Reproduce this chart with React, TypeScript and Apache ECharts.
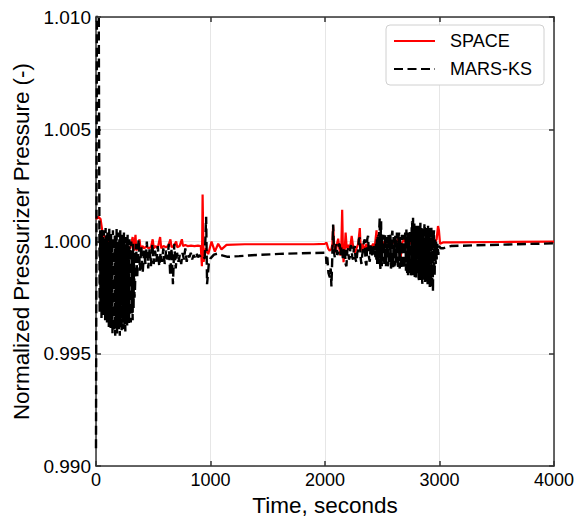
import React, { useEffect, useRef } from "react";
import * as echarts from "echarts";

const FONT = "'Liberation Sans', Arial, sans-serif";

const seriesNames = ["SPACE", "MARS-KS"];
const xRange = [0, 4000];
const xStep = 1000;
const yRange = [0.99, 1.01];
const yStep = 0.005;

// SPACE (red) – [time s, normalized pressure]
const spaceEarly: [number, number][] = [
  [0, 1.001], [20, 1.0011], [40, 1.001], [60, 1.0003], [80, 1.0002], [100, 1.0], [150, 0.9999],
  [200, 0.9998], [250, 0.9998], [300, 0.9997], [320, 1.0002], [330, 0.9996],
];
const spaceMid: [number, number][] = [
  [345, 1.0003], [352, 0.9996], [365, 0.99975], [380, 1.0001], [390, 0.99965], [405, 0.9998],
  [420, 0.9997], [440, 0.99978], [460, 0.9997], [480, 0.99975], [495, 1.0001], [505, 0.9997],
  [520, 0.9998], [540, 0.99972], [560, 1.0002], [570, 0.9997], [590, 0.9998], [610, 0.99975],
  [630, 0.9998], [650, 1.0001], [660, 0.99975], [680, 0.9998], [700, 1.0], [710, 0.99975],
  [730, 0.9998], [750, 1.0001], [760, 0.9998], [780, 0.99985], [800, 0.9998], [830, 0.99982],
  [860, 0.9998], [890, 0.99982], [915, 0.9998],
];
const spaceSpike: [number, number][] = [
  [925, 0.9989], [931, 1.0021], [940, 0.9991], [960, 0.9997], [980, 0.99944], [1009, 1.0],
  [1038, 0.99955], [1067, 0.9999], [1096, 0.99965], [1140, 0.99985], [1300, 0.99988],
  [1600, 0.99988], [1900, 0.99988], [2000, 0.9999],
];
const spaceLate: [number, number][] = [
  [2013, 0.99996], [2027, 0.9997], [2040, 0.9996], [2056, 0.99966], [2065, 0.9999], [2071, 1.00072],
  [2080, 0.9998], [2094, 0.99951], [2105, 0.9999], [2115, 1.00013], [2125, 0.9997], [2135, 0.99937],
  [2143, 0.9999], [2150, 1.00142], [2156, 0.9998], [2162, 0.99908], [2172, 0.9996], [2180, 1.0004],
  [2190, 0.9997], [2205, 0.99986], [2216, 0.9996], [2233, 1.00025], [2245, 0.9998], [2262, 0.9995],
  [2275, 0.9997], [2290, 0.9999], [2304, 1.0006], [2312, 0.9996], [2318, 0.99966], [2330, 0.9999],
  [2345, 0.9996], [2362, 0.9999], [2375, 0.9997], [2390, 0.9998], [2405, 0.99975], [2420, 0.9999],
  [2435, 0.9998], [2450, 1.0005], [2460, 0.9996], [2478, 0.9999], [2490, 0.9997], [2507, 1.0],
  [2522, 0.9998], [2540, 1.0001], [2555, 0.9999], [2570, 1.0], [2590, 0.9999], [2610, 1.0001],
  [2620, 0.9999], [2643, 1.00018], [2655, 0.9993], [2661, 0.9992], [2670, 0.9999], [2690, 1.0001],
  [2711, 0.9999], [2730, 1.0], [2750, 0.9999], [2770, 0.99985], [2800, 0.9999], [2830, 0.9998],
  [2860, 0.99985], [2890, 0.9999], [2920, 0.99985], [2950, 0.9999], [2975, 1.0001], [2987, 1.00069],
  [2995, 1.0005], [3005, 0.9999], [3030, 0.99996], [3100, 0.99996], [3500, 0.99998], [4000, 1.0],
];

// MARS-KS (black dashed)
const marsEarly: [number, number][] = [
  [0, 0.9908], [9, 1.013], [24, 1.0104], [32, 0.9968],
  [36, 1.0005], [40, 0.9971], [44, 1.0003], [48, 0.9966], [52, 1.0006], [56, 0.997], [60, 1.0002],
  [64, 0.9967], [68, 1.0005], [72, 0.9969], [76, 1.0001], [80, 0.9965], [84, 1.0006], [88, 0.9968],
  [92, 1.0003], [96, 0.9964], [100, 1.0004], [104, 0.9967], [108, 1.0], [112, 0.9962], [116, 1.0006],
  [120, 0.9965], [124, 1.0002], [128, 0.9961], [132, 1.0004], [136, 0.9964], [140, 1.0001],
  [144, 0.9959], [148, 1.0005], [152, 0.9963], [156, 0.9999], [160, 0.996], [164, 1.0003],
  [168, 0.9958], [172, 1.0002], [176, 0.9962], [180, 1.0006], [184, 0.9959], [188, 1.0],
  [192, 0.9963], [196, 1.0004], [200, 0.9961], [204, 1.0001], [208, 0.9958], [212, 1.0005],
  [216, 0.9962], [220, 0.9999], [224, 0.996], [228, 1.0003], [232, 0.9964], [236, 1.0001],
  [240, 0.9961], [244, 1.0004], [248, 0.9963], [252, 0.9998], [256, 0.996], [260, 1.0002],
  [264, 0.9965], [268, 1.0], [272, 0.9962], [276, 1.0003], [280, 0.9966], [284, 0.9998],
  [288, 0.9963], [292, 1.0001], [296, 0.9967], [300, 0.9997], [304, 0.9964], [308, 1.0],
  [312, 0.9968], [316, 0.9996], [320, 0.9965], [324, 0.9999], [328, 0.997], [332, 0.9995], [336, 0.9975],
];
const marsMid: [number, number][] = [
  [340, 0.9978], [350, 0.9999], [360, 0.9984], [372, 1.0001], [384, 0.9987], [396, 0.9998],
  [408, 0.9986], [420, 0.9996], [432, 0.999], [444, 1.0], [456, 0.9988], [468, 0.9997],
  [480, 0.9989], [492, 0.9999], [504, 0.999], [516, 0.9996], [528, 0.9991], [540, 0.9998],
  [552, 0.9989], [564, 0.9995], [576, 0.9991], [588, 0.9997], [600, 0.999], [612, 0.9996],
  [624, 0.9992], [636, 0.9999], [648, 0.9985], [660, 0.9997], [672, 0.9981], [684, 0.9999],
  [696, 0.9988], [708, 0.9995], [720, 0.9991], [732, 0.9994], [744, 0.999], [756, 0.9995],
  [768, 0.9992], [780, 0.9997], [792, 0.9991], [804, 0.9994], [816, 0.9993], [828, 0.9995],
  [840, 0.9992], [852, 0.9994], [864, 0.9993], [876, 0.9995], [888, 0.9993], [900, 0.9994],
  [915, 0.9993], [935, 0.9992], [950, 0.9993],
];
const marsSpike: [number, number][] = [
  [962, 1.0011], [970, 0.9981], [985, 0.999], [1000, 0.99925], [1030, 0.99942], [1060, 0.99946],
  [1090, 0.9994], [1150, 0.99932], [1250, 0.99935], [1400, 0.9994], [1600, 0.99945],
  [1800, 0.99948], [2000, 0.9995],
];
const marsLate: [number, number][] = [
  [2008, 0.9994], [2013, 0.999], [2020, 0.9993], [2030, 0.9986], [2042, 0.9984], [2050, 0.9988],
  [2056, 0.998], [2062, 0.999], [2071, 1.00076], [2078, 0.9996], [2085, 0.9993], [2092, 0.9998],
  [2100, 0.99988], [2107, 0.9994], [2115, 0.9995], [2122, 0.9999], [2129, 0.99985], [2136, 0.9994],
  [2144, 0.9998], [2151, 0.9995], [2158, 0.99916], [2166, 0.9996], [2173, 0.99974], [2180, 0.999],
  [2187, 0.9989], [2195, 0.9996], [2202, 0.9997], [2209, 0.9992], [2216, 0.9993], [2223, 0.9998],
  [2231, 0.9998], [2238, 0.9993], [2245, 0.9992], [2252, 0.9997], [2260, 0.9998], [2267, 0.9992],
  [2275, 0.99908], [2282, 0.9995], [2289, 0.9996], [2296, 1.0001], [2304, 1.00018], [2311, 0.9993],
  [2318, 0.999], [2325, 0.9994], [2333, 0.9996], [2340, 1.0], [2347, 1.0001], [2354, 0.9991],
  [2362, 0.99894], [2369, 1.0001], [2376, 1.00026], [2384, 0.9993], [2391, 0.9991], [2398, 0.9997],
  [2405, 0.9999], [2412, 0.9993], [2420, 0.9994], [2427, 0.9998], [2434, 0.9997], [2440, 0.9993],
  [2445, 0.9999], [2449, 0.9991], [2453, 1.0001], [2456, 0.9990], [2460, 1.0002], [2463, 0.9991],
  [2467, 1.0003], [2470, 0.9990], [2474, 1.0006], [2478, 1.00106], [2481, 0.9990], [2484, 0.99878],
  [2487, 1.0004], [2490, 1.0009], [2493, 0.9990], [2496, 0.9989], [2499, 1.0002], [2501, 0.9999],
  [2504, 0.9991], [2507, 0.99944], [2510, 1.0003], [2514, 1.0], [2518, 0.9990], [2522, 0.9993],
  [2525, 1.0003], [2529, 1.0002], [2532, 0.9989], [2536, 0.9992], [2540, 1.0002], [2543, 0.9999],
  [2547, 0.9989], [2551, 0.999], [2554, 1.0003], [2558, 1.0001], [2561, 0.9990], [2565, 0.9991],
  [2568, 1.0003], [2572, 1.0002], [2576, 0.9988], [2580, 0.9989], [2584, 1.0003], [2589, 1.00048],
  [2592, 0.9990], [2595, 0.99886], [2599, 1.0002], [2603, 1.0001], [2606, 0.9989], [2610, 0.999],
  [2614, 1.0003], [2618, 0.9999], [2621, 0.9990], [2624, 0.9993], [2628, 1.0004], [2631, 1.0002],
  [2635, 0.9988], [2638, 0.9989], [2642, 1.0002], [2647, 1.0004], [2650, 0.9989], [2653, 0.9988],
  [2657, 1.0002], [2660, 1.0], [2664, 0.9988], [2667, 0.999], [2671, 1.0003], [2676, 0.9998],
  [2680, 0.9989], [2683, 0.9988], [2687, 1.0002], [2690, 1.0003], [2693, 0.9988], [2696, 0.9989],
  [2700, 1.0004], [2704, 1.0002], [2707, 0.9987], [2711, 1.00054], [2714, 0.9988], [2718, 0.9986],
  [2721, 1.0003], [2725, 0.9985], [2728, 1.0004], [2732, 1.0003], [2735, 0.9986], [2739, 0.9987],
  [2742, 1.0005], [2746, 0.9999], [2750, 0.9985], [2754, 0.9986], [2757, 1.0006], [2761, 1.0009],
  [2765, 0.9986], [2769, 1.00106], [2772, 0.9985], [2776, 0.9986], [2780, 1.0008], [2784, 0.99842],
  [2787, 1.0006], [2791, 1.0005], [2794, 0.9984], [2798, 1.0007], [2802, 0.9985], [2806, 0.9985],
  [2809, 1.0007], [2813, 1.0003], [2817, 0.9984], [2821, 0.99829], [2824, 1.0007], [2827, 1.0006],
  [2830, 0.9984], [2833, 1.00084], [2836, 0.9983], [2840, 0.9984], [2843, 1.0006], [2846, 1.0005],
  [2849, 0.9982], [2851, 0.99812], [2855, 1.0006], [2858, 1.0004], [2861, 0.9983], [2864, 0.9986],
  [2868, 1.0007], [2871, 1.0008], [2874, 0.9982], [2878, 0.9984], [2881, 1.0006], [2885, 0.9983],
  [2888, 1.0007], [2892, 1.0006], [2896, 0.9981], [2900, 1.0007], [2903, 0.9982], [2907, 0.9985],
  [2911, 1.0006], [2915, 0.99798], [2918, 1.0005], [2922, 1.0004], [2925, 0.9980], [2929, 1.0007],
  [2932, 0.9981], [2936, 0.9982], [2939, 1.0005], [2943, 0.99776], [2946, 1.0003], [2948, 1.0002],
  [2952, 1.0005], [2955, 0.9985], [2958, 0.9986], [2961, 1.0001], [2963, 0.9994], [2967, 0.999],
  [2970, 1.0], [2972, 0.9998], [2975, 0.9992], [2978, 0.9995], [2982, 0.9999], [2985, 0.9999],
  [2990, 0.9994], [2996, 0.9998], [3010, 0.9997], [3030, 0.9997], [3060, 0.99975],
  [3100, 0.9998], [3300, 0.99983], [3600, 0.99987], [4000, 0.99992],
];

const spaceData = [...spaceEarly, ...spaceMid, ...spaceSpike, ...spaceLate];
const marsData = [...marsEarly, ...marsMid, ...marsSpike, ...marsLate];

const AXIS_COLOR = "#333";

function makeX(main: boolean): any {
  return {
    type: "value",
    min: xRange[0],
    max: xRange[1],
    interval: xStep,
    position: main ? "bottom" : "top",
    axisLine: { show: true, onZero: false, lineStyle: { color: AXIS_COLOR, width: 1.5 } },
    axisTick: { show: true, inside: true, length: 5, lineStyle: { color: AXIS_COLOR, width: 1.5 } },
    axisLabel: {
      show: main,
      color: "#000",
      fontSize: 18,
      fontFamily: FONT,
      margin: 5,
      formatter: (v: number) => String(v),
    },
    splitLine: { show: main, lineStyle: { color: "#e6e6e6", width: 1 } },
    name: main ? "Time, seconds" : "",
    nameLocation: "middle",
    nameGap: 19,
    nameTextStyle: { color: "#000", fontSize: 22.5, fontFamily: FONT },
  };
}

function makeY(main: boolean): any {
  return {
    type: "value",
    min: yRange[0],
    max: yRange[1],
    interval: yStep,
    position: main ? "left" : "right",
    axisLine: { show: true, onZero: false, lineStyle: { color: AXIS_COLOR, width: 1.5 } },
    axisTick: { show: true, inside: true, length: 5, lineStyle: { color: AXIS_COLOR, width: 1.5 } },
    axisLabel: {
      show: main,
      color: "#000",
      fontSize: 19,
      fontFamily: FONT,
      margin: 5,
      formatter: (v: number) => v.toFixed(3),
    },
    splitLine: { show: main, lineStyle: { color: "#e6e6e6", width: 1 } },
    name: main ? "Normalized Pressurizer Pressure (-)" : "",
    nameLocation: "middle",
    nameGap: 63,
    nameTextStyle: { color: "#000", fontSize: 22.4, fontFamily: FONT },
  };
}

export default function App() {
  const ref = useRef<HTMLDivElement>(null);
  useEffect(() => {
    document.body.style.margin = "0";
    if (!ref.current) return;
    const chart = echarts.init(ref.current, undefined, { renderer: "svg" });
    chart.setOption({
      animation: false,
      backgroundColor: "#fff",
      grid: { left: 96, right: 32, top: 17, bottom: 50, containLabel: false },
      xAxis: [makeX(true), makeX(false)],
      yAxis: [makeY(true), makeY(false)],
      legend: {
        data: seriesNames,
        orient: "vertical",
        left: 386,
        top: 25,
        padding: [7, 12, 7, 7],
        itemGap: 10,
        itemWidth: 41,
        itemHeight: 14,
        backgroundColor: "#fff",
        borderColor: "#d0d0d0",
        borderWidth: 1,
        borderRadius: 4,
        itemStyle: { opacity: 0 },
        textStyle: { color: "#000", fontSize: 18, fontFamily: FONT, padding: [0, 0, 0, 10] },
      },
      series: [
        {
          name: seriesNames[0],
          type: "line",
          data: spaceData,
          symbol: "none",
          showSymbol: false,
          lineStyle: { color: "#ff0000", width: 2.2 },
          itemStyle: { color: "#ff0000" },
          z: 2,
        },
        {
          name: seriesNames[1],
          type: "line",
          data: marsData,
          symbol: "none",
          showSymbol: false,
          lineStyle: { color: "#000", width: 2.4, type: [9, 4.5] },
          itemStyle: { color: "#000" },
          z: 3,
        },
      ],
    });
    return () => chart.dispose();
  }, []);
  return <div ref={ref} style={{ width: 586, height: 522, position: "absolute", left: 0, top: 0 }} />;
}
